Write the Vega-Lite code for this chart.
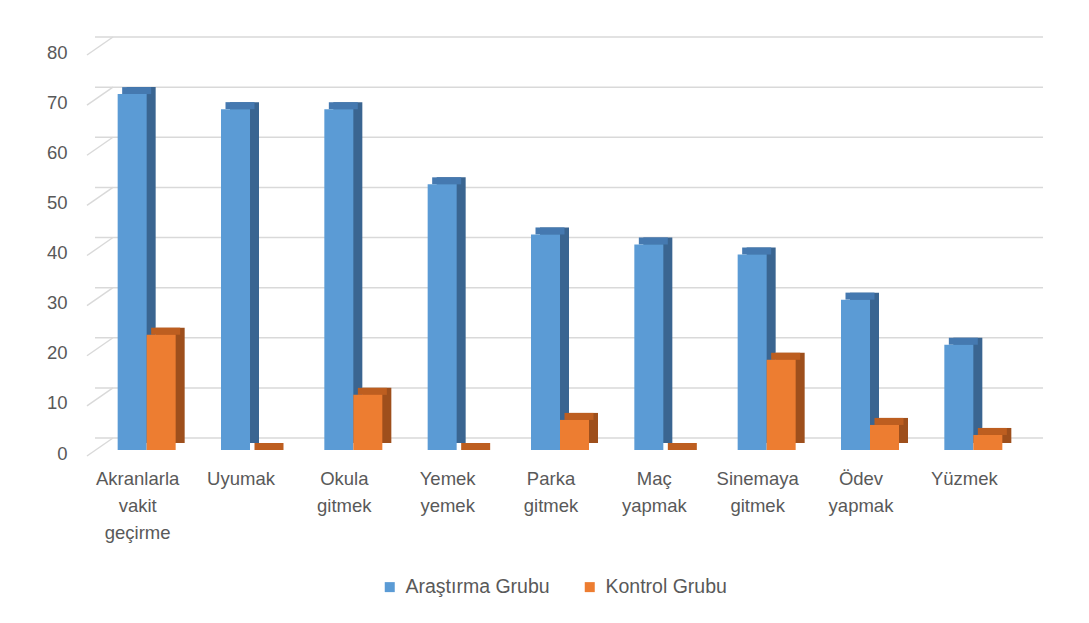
{
  "$schema": "https://vega.github.io/schema/vega-lite/v6.json",
  "autosize": "none",
  "width": 930,
  "height": 401,
  "padding": {"left": 95, "top": 49, "right": 64, "bottom": 173},
  "background": "white",
  "config": {
    "view": {"stroke": null},
    "font": "Liberation Sans",
    "axis": {"title": null, "domain": false, "ticks": false, "grid": false, "labelColor": "#595959", "labelFontSize": 18.5}
  },
  "datasets": {
    "etkinlik": [
      {"etkinlik": "Akranlarla vakit geçirme", "grup": "Araştırma Grubu", "deger": 71},
      {"etkinlik": "Uyumak", "grup": "Araştırma Grubu", "deger": 68},
      {"etkinlik": "Okula gitmek", "grup": "Araştırma Grubu", "deger": 68},
      {"etkinlik": "Yemek yemek", "grup": "Araştırma Grubu", "deger": 53},
      {"etkinlik": "Parka gitmek", "grup": "Araştırma Grubu", "deger": 43},
      {"etkinlik": "Maç yapmak", "grup": "Araştırma Grubu", "deger": 41},
      {"etkinlik": "Sinemaya gitmek", "grup": "Araştırma Grubu", "deger": 39},
      {"etkinlik": "Ödev yapmak", "grup": "Araştırma Grubu", "deger": 30},
      {"etkinlik": "Yüzmek", "grup": "Araştırma Grubu", "deger": 21},
      {"etkinlik": "Akranlarla vakit geçirme", "grup": "Kontrol Grubu", "deger": 23},
      {"etkinlik": "Uyumak", "grup": "Kontrol Grubu", "deger": 0},
      {"etkinlik": "Okula gitmek", "grup": "Kontrol Grubu", "deger": 11},
      {"etkinlik": "Yemek yemek", "grup": "Kontrol Grubu", "deger": 0},
      {"etkinlik": "Parka gitmek", "grup": "Kontrol Grubu", "deger": 6},
      {"etkinlik": "Maç yapmak", "grup": "Kontrol Grubu", "deger": 0},
      {"etkinlik": "Sinemaya gitmek", "grup": "Kontrol Grubu", "deger": 18},
      {"etkinlik": "Ödev yapmak", "grup": "Kontrol Grubu", "deger": 5},
      {"etkinlik": "Yüzmek", "grup": "Kontrol Grubu", "deger": 3}
    ],
    "izgara": [
      {"v": 0}, {"v": 10}, {"v": 20}, {"v": 30}, {"v": 40},
      {"v": 50}, {"v": 60}, {"v": 70}, {"v": 80}
    ]
  },
  "layer": [
    {
      "data": {"name": "izgara"},
      "mark": {"type": "rule", "color": "#D9D9D9", "strokeWidth": 1.5, "xOffset": 18, "x2Offset": 18, "yOffset": -12, "y2Offset": -12},
      "encoding": {
        "y": {"field": "v", "type": "quantitative", "scale": {"domain": [0, 80], "nice": false}}
      }
    },
    {
      "data": {"name": "izgara"},
      "mark": {"type": "rule", "color": "#D9D9D9", "strokeWidth": 1.5, "xOffset": -59.7, "x2Offset": -33.7, "yOffset": 6, "y2Offset": -12},
      "encoding": {
        "x": {"datum": "Akranlarla vakit geçirme", "type": "nominal"},
        "x2": {"datum": "Akranlarla vakit geçirme"},
        "y": {"field": "v", "type": "quantitative"},
        "y2": {"field": "v"}
      }
    },
    {
      "data": {"name": "etkinlik"},
      "transform": [{"filter": "datum.grup === 'Araştırma Grubu'"}],
      "mark": {"type": "bar", "width": 29, "color": "#3A6591", "xOffset": -5.5, "yOffset": -7, "y2Offset": -7},
      "encoding": {
        "x": {"field": "etkinlik", "type": "nominal", "sort": null},
        "y": {"field": "deger", "type": "quantitative"},
        "y2": {"datum": 0}
      }
    },
    {
      "data": {"name": "etkinlik"},
      "transform": [{"filter": "datum.grup === 'Araştırma Grubu'"}],
      "mark": {"type": "tick", "size": 29, "thickness": 7, "opacity": 1, "color": "#4579B0", "xOffset": -10, "yOffset": -3.5},
      "encoding": {
        "x": {"field": "etkinlik", "type": "nominal", "sort": null},
        "y": {"field": "deger", "type": "quantitative"}
      }
    },
    {
      "data": {"name": "etkinlik"},
      "transform": [{"filter": "datum.grup === 'Araştırma Grubu'"}],
      "mark": {"type": "bar", "width": 29, "xOffset": -14.5},
      "encoding": {
        "x": {
          "field": "etkinlik", "type": "nominal", "sort": null,
          "scale": {"type": "band", "paddingInner": 0, "paddingOuter": 0},
          "axis": {
            "title": null, "domain": false, "ticks": false, "labelAngle": 0,
            "labelAlign": "center", "bandPosition": 0.5,
            "labelExpr": "split(datum.label, ' ')",
            "labelFontSize": 18.5, "labelColor": "#595959", "labelLineHeight": 27,
            "labelPadding": 28, "labelOffset": -9, "labelLimit": 200
          }
        },
        "y": {
          "field": "deger", "type": "quantitative",
          "scale": {"domain": [0, 80], "nice": false},
          "axis": {
            "title": null, "domain": false, "ticks": false, "grid": false,
            "values": [0, 10, 20, 30, 40, 50, 60, 70, 80],
            "labelFontSize": 18.5, "labelColor": "#595959", "labelPadding": 28, "labelOffset": 3
          }
        },
        "color": {
          "field": "grup", "type": "nominal",
          "scale": {"domain": ["Araştırma Grubu", "Kontrol Grubu"], "range": ["#5B9BD5", "#ED7D31"]},
          "legend": {
            "title": null, "orient": "none", "direction": "horizontal",
            "legendX": 285, "legendY": 528,
            "symbolType": "square", "symbolSize": 100, "symbolStrokeWidth": 0,
            "labelFontSize": 19.5, "labelColor": "#595959", "labelOffset": 6,
            "columnPadding": 30
          }
        }
      }
    },
    {
      "data": {"name": "etkinlik"},
      "transform": [{"filter": "datum.grup === 'Kontrol Grubu'"}],
      "mark": {"type": "bar", "width": 29, "color": "#9E4F1C", "xOffset": 23.5, "yOffset": -7, "y2Offset": -7},
      "encoding": {
        "x": {"field": "etkinlik", "type": "nominal", "sort": null},
        "y": {"field": "deger", "type": "quantitative"},
        "y2": {"datum": 0}
      }
    },
    {
      "data": {"name": "etkinlik"},
      "transform": [{"filter": "datum.grup === 'Kontrol Grubu'"}],
      "mark": {"type": "tick", "size": 29, "thickness": 7, "opacity": 1, "color": "#BD5E20", "xOffset": 19, "yOffset": -3.5},
      "encoding": {
        "x": {"field": "etkinlik", "type": "nominal", "sort": null},
        "y": {"field": "deger", "type": "quantitative"}
      }
    },
    {
      "data": {"name": "etkinlik"},
      "transform": [{"filter": "datum.grup === 'Kontrol Grubu'"}],
      "mark": {"type": "bar", "width": 29, "xOffset": 14.5},
      "encoding": {
        "x": {"field": "etkinlik", "type": "nominal", "sort": null},
        "y": {"field": "deger", "type": "quantitative"},
        "color": {"field": "grup", "type": "nominal"}
      }
    }
  ]
}
